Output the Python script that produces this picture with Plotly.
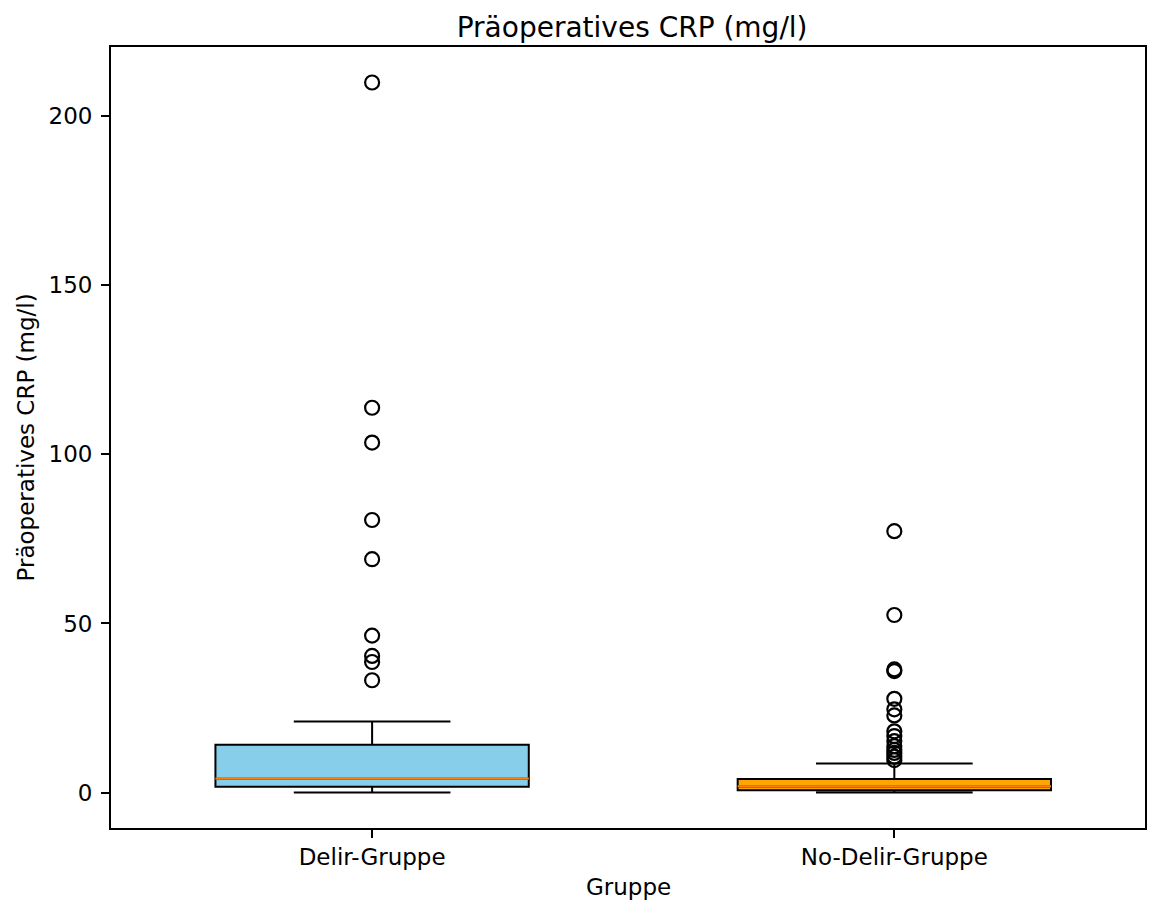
import plotly.graph_objects as go

# Group labels and box statistics (mg/l)
groups = ["Delir-Gruppe", "No-Delir-Gruppe"]
positions = [1, 2]
q1 = [1.7, 0.7]
median = [4.1, 1.8]
q3 = [14.1, 4.0]
whisker_low = [0.0, 0.0]
whisker_high = [21.0, 8.6]

# Values beyond the whiskers
outliers_delir = [210.0, 113.8, 103.5, 80.6, 69.0, 46.4, 40.4, 38.6, 33.2]
outliers_no_delir = [77.3, 52.5, 36.4, 35.9, 27.7, 24.6, 22.8, 18.1, 16.7,
                     15.2, 13.7, 12.6, 11.7, 10.6, 9.6]

fill_colors = ["#87CEEB", "#FFA500"]
median_color = "#ff7f0e"

y_ticks = [0, 50, 100, 150, 200]

FONT = "DejaVu Sans"
BOX_WIDTH = 0.6

fig = go.Figure()

for i, name in enumerate(groups):
    fig.add_trace(go.Box(
        x=[positions[i]],
        q1=[q1[i]], median=[median[i]], q3=[q3[i]],
        lowerfence=[whisker_low[i]], upperfence=[whisker_high[i]],
        width=BOX_WIDTH, whiskerwidth=0.5,
        fillcolor=fill_colors[i],
        line=dict(color="black", width=2),
        boxpoints=False, name=name, showlegend=False,
        hoverinfo="skip",
    ))
    # median drawn in its own colour over the box
    fig.add_trace(go.Scatter(
        x=[positions[i] - BOX_WIDTH / 2, positions[i] + BOX_WIDTH / 2],
        y=[median[i], median[i]],
        mode="lines", line=dict(color=median_color, width=2.4),
        showlegend=False, hoverinfo="skip",
    ))

for pos, vals in zip(positions, [outliers_delir, outliers_no_delir]):
    fig.add_trace(go.Scatter(
        x=[pos] * len(vals), y=vals, mode="markers",
        marker=dict(symbol="circle-open", size=14, color="black",
                    line=dict(width=2.2, color="black")),
        showlegend=False, hoverinfo="y",
    ))

axis_common = dict(
    showline=True, linecolor="black", linewidth=1.8, mirror=True,
    showgrid=False, zeroline=False,
    ticks="outside", ticklen=8, tickwidth=1.8, tickcolor="black",
    tickfont=dict(family=FONT, size=23, color="black"),
)

fig.update_layout(
    width=1153, height=901,
    margin=dict(l=111, r=6, t=47, b=73),
    paper_bgcolor="white", plot_bgcolor="white",
    font=dict(family=FONT, color="black"),
    title=dict(text="Präoperatives CRP (mg/l)", x=0.504, xref="paper",
               xanchor="center", y=1 - 27 / 901, yref="container",
               yanchor="middle", font=dict(family=FONT, size=28, color="black")),
    xaxis=dict(range=[0.5, 2.48], tickvals=positions, ticktext=groups,
               ticklabelstandoff=-1, **axis_common),
    yaxis=dict(range=[-10.5, 220.5], tickvals=y_ticks,
               ticklabelstandoff=4, **axis_common),
    annotations=[
        dict(text="Gruppe", xref="paper", yref="paper", x=0.5, y=0,
             xanchor="center", yanchor="middle", yshift=-(887 - 828),
             showarrow=False, font=dict(family=FONT, size=23, color="black")),
        dict(text="Präoperatives CRP (mg/l)", xref="paper", yref="paper",
             x=0, y=0.5, xanchor="center", yanchor="middle",
             xshift=-(111 - 25), textangle=-90, showarrow=False,
             font=dict(family=FONT, size=23, color="black")),
    ],
)

fig.write_html("out.html")
